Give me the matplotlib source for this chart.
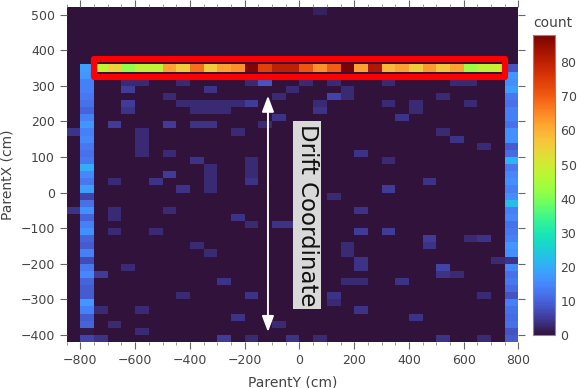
import matplotlib
matplotlib.use('Agg')
import matplotlib.pyplot as plt
from matplotlib.patches import Rectangle
from matplotlib.ticker import MultipleLocator
import numpy as np

# histogram binning (cm)
x_edges = np.arange(-850, 801, 50)
y_edges = np.arange(-420, 521, 20)

# hot row of the detector, x bin centres from -725 to 725 at y = 350
strip_y = 350
strip_x = np.arange(-725, 726, 50)
strip_counts = [48, 54, 42, 48, 48, 62, 56, 68, 56, 62, 64, 87, 74, 80, 80,
                71, 64, 70, 88, 62, 82, 59, 62, 56, 63, 57, 62, 43, 48, 49]

# the two side columns, y bin centres from 350 down to -410
side_y = np.arange(350, -411, -20)
left_x = -775
left_counts = [18, 17, 14, 14, 13, 12, 10, 14, 17, 14, 15, 13, 12, 13, 20, 15,
               13, 18, 6, 12, 16, 10, 14, 16, 10, 9, 14, 7, 13, 15, 10, 9, 9,
               17, 14, 9, 10, 1, 6]
right_x = 775
right_counts = [8, 17, 16, 18, 13, 12, 14, 14, 12, 16, 16, 9, 11, 21, 13, 15,
                16, 14, 16, 22, 14, 15, 12, 13, 14, 17, 16, 4, 15, 12, 13, 11,
                8, 14, 12, 11, 12, 8, 9]

# scattered low-count bins elsewhere (bin centre x, bin centre y, count)
noise_x = [-625, -325, -125, -175, -625, -625, -425, -375, -325, -275, -225,
           -375, -325, -275, -475, -675, -475, -375, -325, -575, -575, -575,
           -575, -225, -375, -475, -325, -325, -325, -325, -475, -525, -425,
           -175, -175, -675, -125, -175,
           325, 475, 225, 225, 325, 475, 475, 525, 525, 175, 175, 225, 225,
           375, 175, 225, 225, 425, 675, 625, 575, 725, 675, -75,
           75, 125, -25, 75, 375, 525, 575, 525, 225, 325, -75, 625, 675,
           425, 425, 325, 175, 175,
           -75, 75, -175, 125, -175, 125, 125, -75, -175, -25,
           -725, -725, -675, -675, -675, -675, -525, -375, -225, -625, -275,
           -425, -575, -225, -325, -475,
           -725, -275, -175, -25, 75, 525, 675, -575,
           -825, -825,
           -625, -575, -425, -175, 25, 125, 325, 575, 625]
noise_y = [290, 290, 310, 250, 250, 230, 250, 250, 250, 250, 250,
           230, 230, 230, 270, 190, 190, 190, 190, 170, 150, 130,
           110, 170, 90, 110, 70, 50, 30, 10, 50, 30, 10,
           70, 50, 30, 190, 30,
           10, 30, -50, -110, -110, -130, -150, -210, -230, -150, -170, -190, -210,
           -250, -250, -250, -330, -350, -130, -130, -230, -190, -290, -90,
           510, 270, 290, 250, 210, 270, 150, 170, 110, 90, 210, 250, 130,
           250, 230, 250, 290, 270,
           270, 230, 90, -10, -290, -290, -310, -370, -90, -90,
           -230, -330, -50, -70, -110, -370, -110, -150, -70, -210, -250,
           -290, -330, -350, -170, -50,
           -410, -410, -410, -410, -410, -410, -410, -390,
           170, -50,
           310, 310, 310, 310, 310, 310, 310, 310, 310]
noise_n = [5, 4, 8, 5, 5, 4, 3, 3, 3, 3, 3,
           3, 3, 3, 3, 5, 5, 4, 4, 3, 3, 3,
           3, 3, 4, 3, 3, 3, 3, 3, 5, 4, 4,
           3, 3, 3, 3, 4,
           5, 4, 4, 5, 5, 5, 4, 6, 4, 3, 3, 4, 4,
           4, 3, 3, 4, 4, 4, 3, 3, 3, 3, 4,
           2, 6, 3, 3, 4, 3, 4, 3, 4, 3, 4, 3, 3,
           3, 3, 3, 3, 3,
           3, 4, 3, 3, 4, 4, 3, 3, 3, 4,
           5, 3, 3, 3, 3, 3, 3, 3, 4, 3, 4,
           3, 3, 4, 3, 3,
           4, 5, 3, 4, 3, 4, 3, 3,
           4, 4,
           3, 3, 3, 3, 3, 3, 3, 3, 3]

label_color = '#444444'

xs = np.concatenate([strip_x, np.full(len(side_y), left_x),
                     np.full(len(side_y), right_x), noise_x])
ys = np.concatenate([np.full(len(strip_x), strip_y), side_y, side_y, noise_y])
ws = np.concatenate([strip_counts, left_counts, right_counts, noise_n])
H, _, _ = np.histogram2d(xs, ys, bins=[x_edges, y_edges], weights=ws)

fig = plt.figure(figsize=(5.77, 3.88), dpi=100)
ax = fig.add_axes([0.1156, 0.1186, 0.7830, 0.8621])
cax = fig.add_axes([0.9237, 0.1366, 0.0381, 0.7732])

cmap = plt.get_cmap('turbo')
mesh = ax.pcolormesh(x_edges, y_edges, H.T, cmap=cmap, vmin=0, vmax=H.max())
ax.set_facecolor(cmap(0.0))
ax.set_xlim(x_edges[0], x_edges[-1])
ax.set_ylim(y_edges[0], y_edges[-1])

for s in ax.spines.values():
    s.set_visible(False)
ax.xaxis.set_major_locator(MultipleLocator(200))
ax.xaxis.set_minor_locator(MultipleLocator(50))
ax.yaxis.set_major_locator(MultipleLocator(100))
ax.tick_params(which='major', direction='out', length=5, width=0.8,
               color='#666666', labelcolor=label_color, labelsize=9,
               top=True, right=True)
ax.tick_params(which='minor', direction='out', length=2, width=0.6,
               color='#888888', top=True, bottom=True)
ax.set_xlabel('ParentY (cm)', fontsize=10, color=label_color, labelpad=6)
ax.set_ylabel('ParentX (cm)', fontsize=10, color=label_color, labelpad=4)

# box around the hot row
pad_x, pad_y = 0, 26
ax.add_patch(Rectangle((strip_x[0] - 25 - pad_x, strip_y - pad_y),
                       strip_x[-1] - strip_x[0] + 50 + 2 * pad_x, 2 * pad_y,
                       fill=False, edgecolor='red', linewidth=4.5,
                       joinstyle='round', zorder=3))

# drift direction marker
ax.annotate('', xy=(-115, 272), xytext=(-115, -392),
            arrowprops=dict(arrowstyle='<|-|>,head_length=0.8,head_width=0.3',
                            color='white', lw=1.4, mutation_scale=12,
                            shrinkA=0, shrinkB=0), zorder=4)
ax.text(28, -64, 'Drift Coordinate', rotation=-90, ha='center', va='center',
        fontsize=16.5, color='#111111', zorder=5,
        bbox=dict(facecolor='#d9d9d9', edgecolor='none', pad=2))

cb = fig.colorbar(mesh, cax=cax)
cb.set_ticks(np.arange(0, 81, 10))
cb.outline.set_edgecolor('#888888')
cb.outline.set_linewidth(0.8)
cax.tick_params(length=0, labelcolor=label_color, labelsize=9, pad=4)
cax.set_title('count', loc='left', fontsize=10, color=label_color, pad=6)

fig.savefig('out.png', dpi=100)
